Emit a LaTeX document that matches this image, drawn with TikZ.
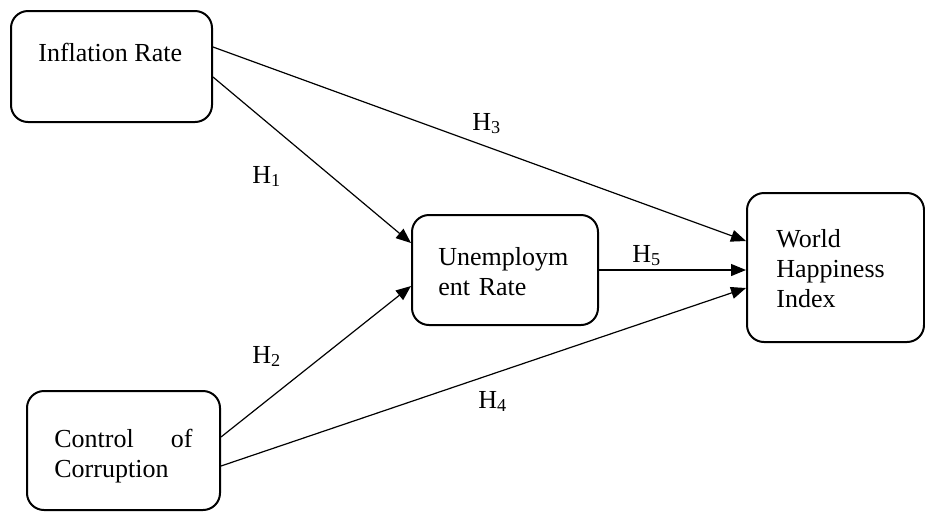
\documentclass[tikz,border=0pt]{standalone}
\usepackage{fontspec}
\setmainfont{Liberation Serif}
\usetikzlibrary{shapes,arrows.meta}

\begin{document}
\begin{tikzpicture}[x=0.5pt,y=-0.5pt]
    \tikzstyle{box}=[rectangle,draw,rounded corners=8.5pt,line width=1pt,inner sep=0pt]
    \tikzstyle{txt}=[inner sep=0pt,anchor=base west,align=left,font=\fontsize{13}{15}\selectfont]
    \tikzstyle{hyp}=[inner sep=0pt,anchor=base west,font=\fontsize{13}{15}\selectfont]
    \tikzstyle{link}=[line width=0.6pt,-{Triangle[length=7.5pt,width=6pt]}]
    \useasboundingbox (0,0) rectangle (925,511);
    % boxes
    \node[box,minimum width=100.5pt,minimum height=55.5pt] (infl) at (111.5,66.5) {};
    \node[box,minimum width=93pt,minimum height=55pt] (unemp) at (505,270) {};
    \node[box,minimum width=88.5pt,minimum height=74.5pt] (whi) at (835.5,267.5) {};
    \node[box,minimum width=96.5pt,minimum height=59.5pt] (corr) at (123.5,450.5) {};
    % texts
    \node[txt] (infltext) at (38,61) {Inflation Rate};
    \node[txt,text width=72pt] (unemptext) at (438,265) {Unemploym\\ent Rate};
    \node[txt,text width=64pt] (whitext) at (776,247) {World\\Happiness\\Index};
    \node[txt,text width=69pt] (corrtext) at (54,447) {Control\hfill of\\Corruption};
    % paths
    \draw[link] ([yshift=9.75pt]infl.east) -- ([yshift=13.25pt]whi.west);
    \draw[link] ([yshift=-5.25pt]infl.east) -- ([yshift=13.5pt]unemp.west);
    \draw[link] ([yshift=6.75pt]corr.east) -- ([yshift=-8pt]unemp.west);
    \draw[link] ([yshift=-7.75pt]corr.east) -- ([yshift=-10.25pt]whi.west);
    \draw[link] (unemp.east) -- (unemp.east -| whi.west);
    % hypotheses
    \node[hyp] (h1) at (252,183) {H\textsubscript{1}};
    \node[hyp] (h2) at (252,363) {H\textsubscript{2}};
    \node[hyp] (h3) at (472,130) {H\textsubscript{3}};
    \node[hyp] (h4) at (478,408) {H\textsubscript{4}};
    \node[hyp] (h5) at (632,262) {H\textsubscript{5}};
\end{tikzpicture}
\end{document}
